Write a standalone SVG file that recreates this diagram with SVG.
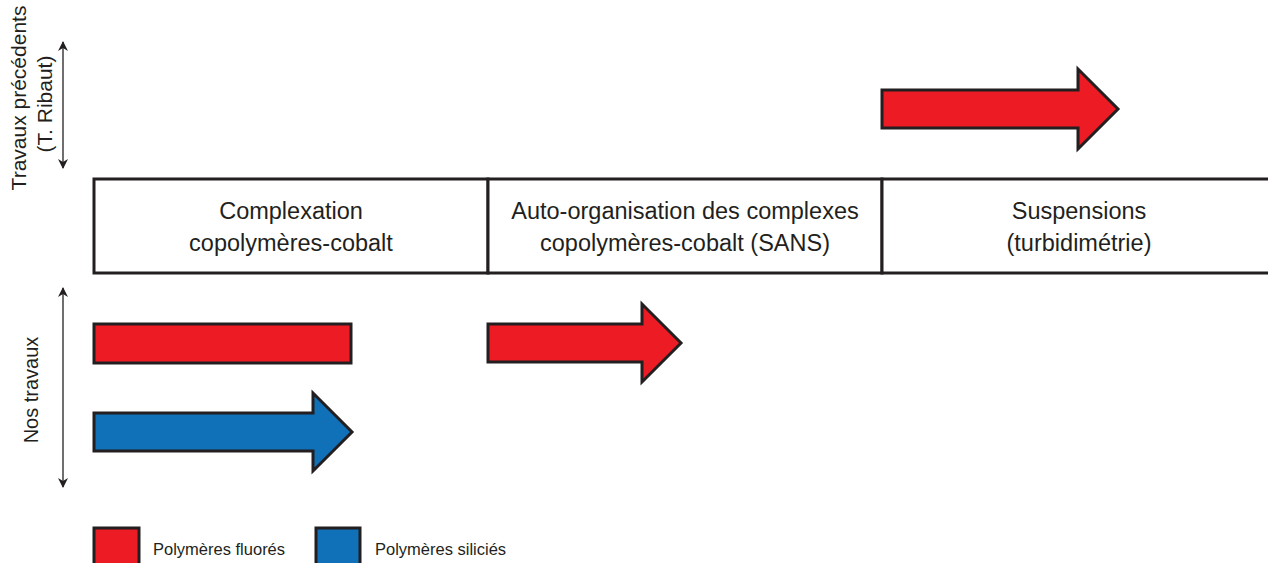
<svg xmlns="http://www.w3.org/2000/svg" width="1268" height="563" viewBox="0 0 1268 563">
<style>
.t{font-family:"Liberation Sans",Arial,sans-serif;fill:#231f20}
.m{font-size:23.5px;text-anchor:middle}
.box{fill:#fff;stroke:#231f20;stroke-width:3}
.red{fill:#ed1c24;stroke:#231f20;stroke-width:3;stroke-linejoin:miter}
.blue{fill:#1070b8;stroke:#231f20;stroke-width:3;stroke-linejoin:miter}
.axis{stroke:#231f20;stroke-width:1.3;fill:none}
</style>
<defs>
<marker id="ah" viewBox="0 0 10 10" refX="9" refY="5" markerWidth="10" markerHeight="10" markerUnits="userSpaceOnUse" orient="auto-start-reverse">
<path d="M0,0 L10,5 L0,10 L3,5 Z" fill="#231f20"/>
</marker>
</defs>
<g id="table">
<g id="col1"><rect class="box" x="94" y="179" width="394" height="94"/>
<text class="t m" x="291" y="219">Complexation</text>
<text class="t m" x="291" y="251">copolymères-cobalt</text></g>
<g id="col2"><rect class="box" x="488" y="179" width="394" height="94"/>
<text class="t m" x="685" y="219">Auto-organisation des complexes</text>
<text class="t m" x="685" y="251">copolymères-cobalt (SANS)</text></g>
<g id="col3"><rect class="box" x="882" y="179" width="400" height="94"/>
<text class="t m" x="1079" y="219">Suspensions</text>
<text class="t m" x="1079" y="251">(turbidimétrie)</text></g>
</g>
<g id="labels">
<text class="t" font-size="21" text-anchor="middle" transform="translate(26,98) rotate(-90)">Travaux précédents</text>
<text class="t" font-size="21" text-anchor="middle" transform="translate(52,104) rotate(-90)">(T. Ribaut)</text>
<text class="t" font-size="20" text-anchor="middle" transform="translate(38,390) rotate(-90)">Nos travaux</text>
</g>
<g id="connectors">
<line class="axis" x1="63" y1="42" x2="63" y2="168" marker-start="url(#ah)" marker-end="url(#ah)"/>
<line class="axis" x1="63" y1="288" x2="63" y2="487" marker-start="url(#ah)" marker-end="url(#ah)"/>
</g>
<g id="arrow-prev">
<path class="red" d="M882,90 L1078,90 L1078,69 L1118,109 L1078,149 L1078,128 L882,128 Z"/>
</g>
<g id="bar-fluor-complex">
<rect class="red" x="94" y="324" width="257" height="39"/>
</g>
<g id="arrow-fluor-auto">
<path class="red" d="M488,324 L642,324 L642,304 L681,343 L642,382 L642,362 L488,362 Z"/>
</g>
<g id="arrow-silic-complex">
<path class="blue" d="M94,413 L313,413 L313,393 L352,432 L313,471 L313,451 L94,451 Z"/>
</g>
<g id="legend">
<rect class="red" x="94" y="528" width="45" height="45"/>
<text class="t" font-size="16.5" x="153" y="555">Polymères fluorés</text>
<rect class="blue" x="316" y="528" width="44" height="45"/>
<text class="t" font-size="16.5" x="375" y="555">Polymères siliciés</text>
</g>
</svg>
